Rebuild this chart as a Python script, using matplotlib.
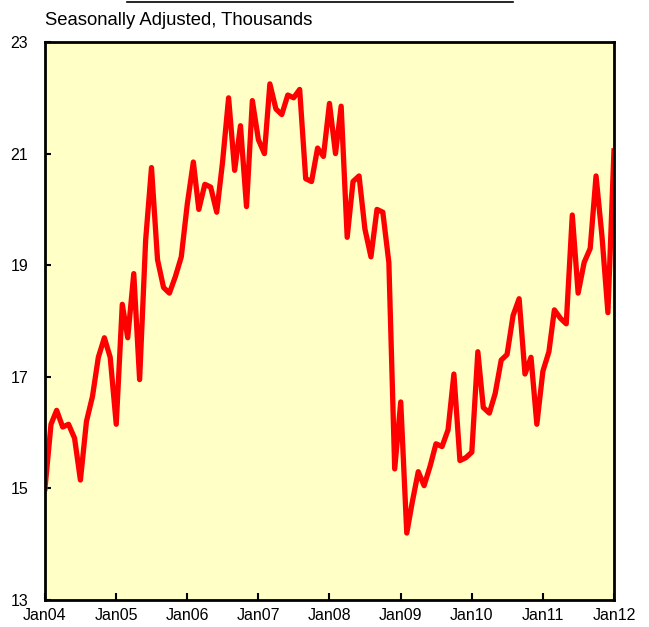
import numpy as np
import pandas as pd
import matplotlib
matplotlib.use("Agg")
from matplotlib import pyplot as plt
from matplotlib.lines import Line2D

plt.rcParams['font.family'] = ['Liberation Sans', 'DejaVu Sans']

# monthly values, Jan 2004 .. Jan 2012 (thousands, seasonally adjusted)
values_2004 = [15.0, 16.15, 16.4, 16.1, 16.15, 15.9, 15.15, 16.2, 16.65, 17.35, 17.7, 17.35]
values_2005 = [16.15, 18.3, 17.7, 18.85, 16.95, 19.45, 20.75, 19.1, 18.6, 18.5, 18.8, 19.15]
values_2006 = [20.1, 20.85, 20.0, 20.45, 20.4, 19.95, 20.85, 22.0, 20.7, 21.5, 20.05, 21.95]
values_2007 = [21.25, 21.0, 22.25, 21.8, 21.7, 22.05, 22.0, 22.15, 20.55, 20.5, 21.1, 20.95]
values_2008 = [21.9, 21.0, 21.85, 19.5, 20.5, 20.6, 19.65, 19.15, 20.0, 19.95, 19.05, 15.35]
values_2009 = [16.55, 14.2, 14.75, 15.3, 15.05, 15.4, 15.8, 15.75, 16.05, 17.05, 15.5, 15.55]
values_2010 = [15.65, 17.45, 16.45, 16.35, 16.7, 17.3, 17.4, 18.1, 18.4, 17.05, 17.35, 16.15]
values_2011 = [17.1, 17.45, 18.2, 18.05, 17.95, 19.9, 18.5, 19.05, 19.3, 20.6, 19.5, 18.15]
values_2012 = [21.05]

values = (values_2004 + values_2005 + values_2006 + values_2007 + values_2008
          + values_2009 + values_2010 + values_2011 + values_2012)
dates = pd.date_range('2004-01-01', periods=len(values), freq='MS')

year_ticks = pd.date_range('2004-01-01', '2012-01-01', freq='YS')
tick_labels = ['Jan04', 'Jan05', 'Jan06', 'Jan07', 'Jan08', 'Jan09', 'Jan10', 'Jan11', 'Jan12']
y_ticks = [13, 15, 17, 19, 21, 23]

fig = plt.figure(figsize=(6.49, 6.27), dpi=100)
ax = fig.add_axes([0.0693, 0.043, 0.8767, 0.890])
ax.set_facecolor('#FFFFC6')

ax.plot(dates, values, color='#FF0000', lw=3.8, solid_joinstyle='round')

ax.set_xlim(year_ticks[0], year_ticks[-1])
ax.set_ylim(13, 23)
ax.set_xticks(year_ticks)
ax.set_xticklabels(tick_labels)
ax.set_yticks(y_ticks)
ax.tick_params(axis='both', direction='in', labelsize=11.5, width=1.5, colors='black')
ax.tick_params(axis='y', length=4, pad=12)
ax.tick_params(axis='x', length=5, pad=6)
for s in ax.spines.values():
   s.set_linewidth(2)

fig.text(0.0693, 0.968, 'Seasonally Adjusted, Thousands', fontsize=13.3, va='center', ha='left')
fig.add_artist(Line2D([127/649., 513/649.], [0.997, 0.997], color='black', lw=1.2))

fig.savefig('out.png', dpi=100)
